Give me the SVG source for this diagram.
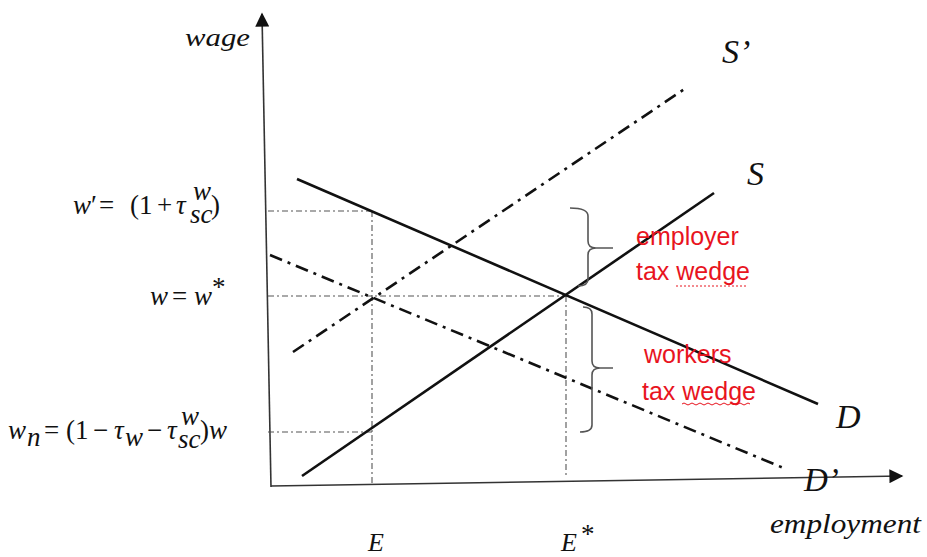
<svg xmlns="http://www.w3.org/2000/svg" width="927" height="557" viewBox="0 0 927 557">
<style>
.axis{stroke:#333;stroke-width:1.6;fill:none}
.solid{stroke:#111;stroke-width:2.6;fill:none}
.dd{stroke:#111;stroke-width:2.6;fill:none;stroke-dasharray:13 6 3 6}
.guide{stroke:#555;stroke-width:1.1;fill:none;stroke-dasharray:6 3 2 3}
.brace{stroke:#555;stroke-width:1.6;fill:none}
.it{font-family:"Liberation Serif",serif;font-style:italic;fill:#111}
.m{font-family:"Liberation Serif",serif;fill:#111;font-size:27px}
.red{font-family:"Liberation Sans",sans-serif;fill:#e8141e;font-size:25px}
</style>
<defs>
<marker id="arrB" viewBox="0 0 10 10" refX="9" refY="5" markerWidth="20" markerHeight="14" markerUnits="userSpaceOnUse" orient="auto">
<path d="M0,0 L10,5 L0,10 Z" fill="#111"/>
</marker>
</defs>

<g id="axes">
<line class="axis" x1="271" y1="487" x2="262" y2="14" marker-end="url(#arrB)"/>
<line class="axis" x1="271" y1="486" x2="902" y2="476" marker-end="url(#arrB)"/>
</g>

<g id="connectors">
<line class="guide" x1="268" y1="211" x2="372" y2="211"/>
<line class="guide" x1="268" y1="296" x2="567" y2="296"/>
<line class="guide" x1="268" y1="432" x2="372" y2="432"/>
<line class="guide" x1="372" y1="211" x2="372" y2="484"/>
<line class="guide" x1="566" y1="296" x2="566" y2="478"/>
</g>

<g id="curve-S-prime"><line class="dd" x1="293" y1="352" x2="686" y2="88"/></g>
<g id="curve-S"><line class="solid" x1="302" y1="476" x2="714" y2="193"/></g>
<g id="curve-D"><line class="solid" x1="297" y1="179" x2="818" y2="404"/></g>
<g id="curve-D-prime"><line class="dd" x1="270" y1="255" x2="786" y2="469"/></g>

<g id="brace-employer">
<path class="brace" d="M570,208 Q588,208 588,216 L588,241 Q588,248 596,248 L613,248 M596,248 Q588,248 588,255 L588,279 Q588,286 578,286"/>
</g>
<g id="brace-workers">
<path class="brace" d="M583,307 Q592,307 592,314 L592,361 Q592,368 600,368 L613,368 M600,368 Q592,368 592,375 L592,425 Q592,432 580,432"/>
</g>

<g id="labels">
<text class="it" x="185" y="46" font-size="26" textLength="65" lengthAdjust="spacingAndGlyphs">wage</text>
<text class="it" x="722" y="63" font-size="34">S’</text>
<text class="it" x="747" y="185" font-size="34">S</text>
<text class="it" x="836" y="428" font-size="34">D</text>
<text class="it" x="804" y="491" font-size="33">D’</text>
<text class="it" x="770" y="533" font-size="28" textLength="151" lengthAdjust="spacingAndGlyphs">employment</text>
<text class="it" x="368" y="551" font-size="26">E</text>
<text class="it" x="561" y="551" font-size="26">E</text>
<text class="m" x="581" y="543" font-size="16">*</text>
</g>

<g id="label-w-prime">
<text class="m" y="214"><tspan x="73" font-style="italic">w</tspan><tspan x="91">′</tspan><tspan x="99">=</tspan><tspan x="130">(</tspan><tspan x="139">1</tspan><tspan x="157">+</tspan><tspan x="176" font-style="italic">τ</tspan></text>
<text class="m" x="193" y="200" font-size="14" font-style="italic">w</text>
<text class="m" x="190" y="223" font-size="15" font-style="italic">sc</text>
<text class="m" x="211" y="214">)</text>
</g>

<g id="label-w-star">
<text class="m" y="305"><tspan x="150" font-style="italic">w</tspan><tspan x="172">=</tspan><tspan x="194" font-style="italic">w</tspan></text>
<text class="m" x="212" y="296" font-size="16">*</text>
</g>

<g id="label-w-n">
<text class="m" y="439"><tspan x="8" font-style="italic">w</tspan></text>
<text class="m" x="27" y="446" font-size="17" font-style="italic">n</text>
<text class="m" y="439"><tspan x="44">=</tspan><tspan x="66">(</tspan><tspan x="75">1</tspan><tspan x="93">−</tspan><tspan x="114" font-style="italic">τ</tspan></text>
<text class="m" x="125" y="446" font-size="17" font-style="italic">w</text>
<text class="m" y="439"><tspan x="147">−</tspan><tspan x="167" font-style="italic">τ</tspan></text>
<text class="m" x="181" y="425" font-size="14" font-style="italic">w</text>
<text class="m" x="178" y="448" font-size="15" font-style="italic">sc</text>
<text class="m" y="439"><tspan x="200">)</tspan><tspan x="209" font-style="italic">w</tspan></text>
</g>

<g id="label-employer">
<text class="red" x="636" y="245">employer</text>
<text class="red" x="636" y="280">tax wedge</text>
<path d="M676,286 L748,286" stroke="#e8141e" stroke-width="1" stroke-dasharray="2 2" fill="none"/>
</g>
<g id="label-workers">
<text class="red" x="644" y="363">workers</text>
<text class="red" x="642" y="400">tax wedge</text>
<path d="M682,404 q2,-2 4,0 t4,0 t4,0 t4,0 t4,0 t4,0 t4,0 t4,0 t4,0 t4,0 t4,0 t4,0 t4,0 t4,0 t4,0 t4,0 t4,0" stroke="#e8141e" stroke-width="1" fill="none"/>
</g>
</svg>
